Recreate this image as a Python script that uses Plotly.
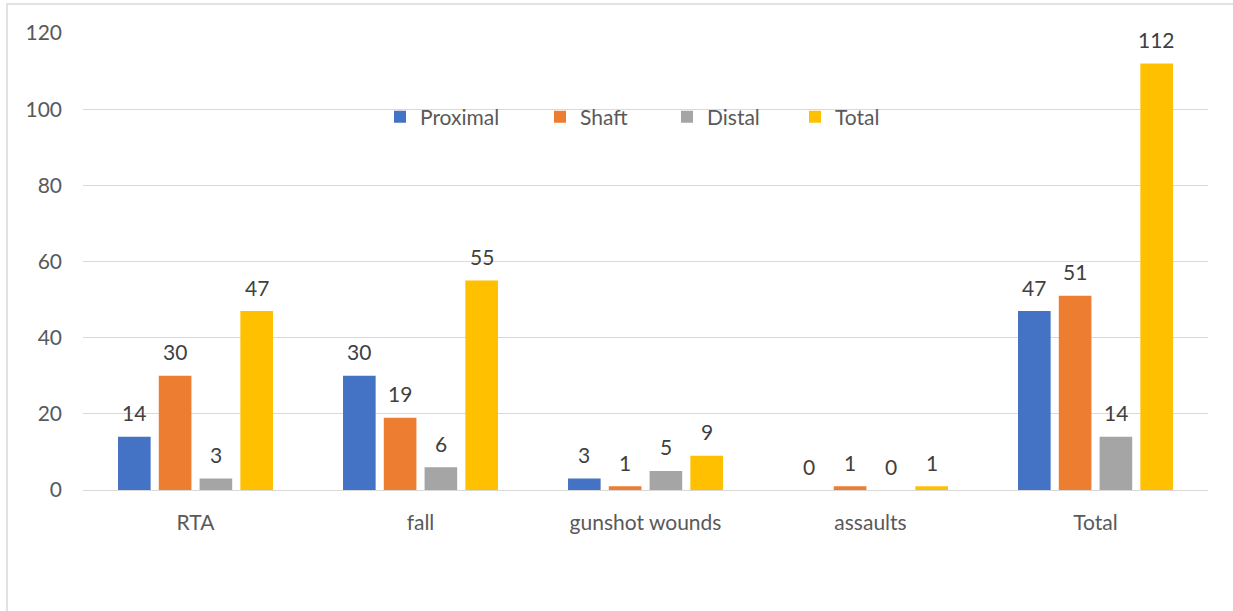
import plotly.graph_objects as go

# Fracture counts by cause and location
categories = ["RTA", "fall", "gunshot wounds", "assaults", "Total"]
proximal = [14, 30, 3, 0, 47]
shaft = [30, 19, 1, 1, 51]
distal = [3, 6, 5, 0, 14]
total = [47, 55, 9, 1, 112]

series_names = ["Proximal", "Shaft", "Distal", "Total"]
series_values = [proximal, shaft, distal, total]
series_colors = ["#4472C4", "#ED7D31", "#A5A5A5", "#FFC000"]
y_ticks = [0, 20, 40, 60, 80, 100, 120]

W, H = 1233, 611
ML, MR, MT, MB = 83, 25, 33, 121
PW, PH = W - ML - MR, H - MT - MB
BARGAP = 0.275
FONT = "Lato"

fig = go.Figure()
legend_px = [380, 540, 667, 795]
for k, (name, vals, col) in enumerate(zip(series_names, series_values, series_colors)):
    lname = "legend" if k == 0 else f"legend{k + 1}"
    fig.add_trace(go.Bar(
        x=categories, y=vals, name=name,
        marker=dict(color=col, line=dict(width=0)),
        legend=lname, hoverinfo="x+y+name",
    ))

# value labels above each bar
n = len(series_names)
slot = (1 - BARGAP) / n
annotations = []
for k, vals in enumerate(series_values):
    for ci, v in enumerate(vals):
        annotations.append(dict(
            x=ci + (k - (n - 1) / 2) * slot, y=v, xref="x", yref="y",
            text=str(v), showarrow=False, yanchor="middle", yshift=24,
            font=dict(family=FONT, size=21, color="#404040"),
        ))

layout_legends = {}
for k, px in enumerate(legend_px):
    lname = "legend" if k == 0 else f"legend{k + 1}"
    layout_legends[lname] = dict(
        x=(px - ML) / PW, y=1 - (117 - MT) / PH, xanchor="left", yanchor="middle",
        orientation="h", bgcolor="rgba(0,0,0,0)", borderwidth=0,
        font=dict(family=FONT, size=21, color="#595959"),
        itemwidth=30, tracegroupgap=0,
    )

fig.update_layout(
    width=W, height=H,
    margin=dict(l=ML, r=MR, t=MT, b=MB, pad=0),
    paper_bgcolor="white", plot_bgcolor="white",
    barmode="group", bargap=BARGAP, bargroupgap=0.2,
    font=dict(family=FONT, size=21, color="#595959"),
    showlegend=True,
    annotations=annotations,
    xaxis=dict(
        type="category", showgrid=False, showline=True, linecolor="#D9D9D9", linewidth=1,
        ticks="", tickfont=dict(family=FONT, size=21, color="#595959"), ticklabelstandoff=14,
        range=[-0.5, len(categories) - 0.5], fixedrange=True,
    ),
    yaxis=dict(
        range=[0, 120], tickvals=y_ticks, showgrid=True, gridcolor="#D9D9D9", gridwidth=1,
        zeroline=False, showline=False, ticks="",
        tickfont=dict(family=FONT, size=21, color="#595959"), ticklabelstandoff=20,
        fixedrange=True,
    ),
    shapes=[dict(
        type="rect", xref="paper", yref="paper",
        x0=(7 - ML) / PW, x1=(W + 10 - ML) / PW,
        y0=1 + (MT - 4) / PH, y1=-(MB + 10) / PH,
        line=dict(color="#D9D9D9", width=1.5), fillcolor="rgba(0,0,0,0)", layer="below",
    )],
    **layout_legends,
)

fig.write_html("out.html")
